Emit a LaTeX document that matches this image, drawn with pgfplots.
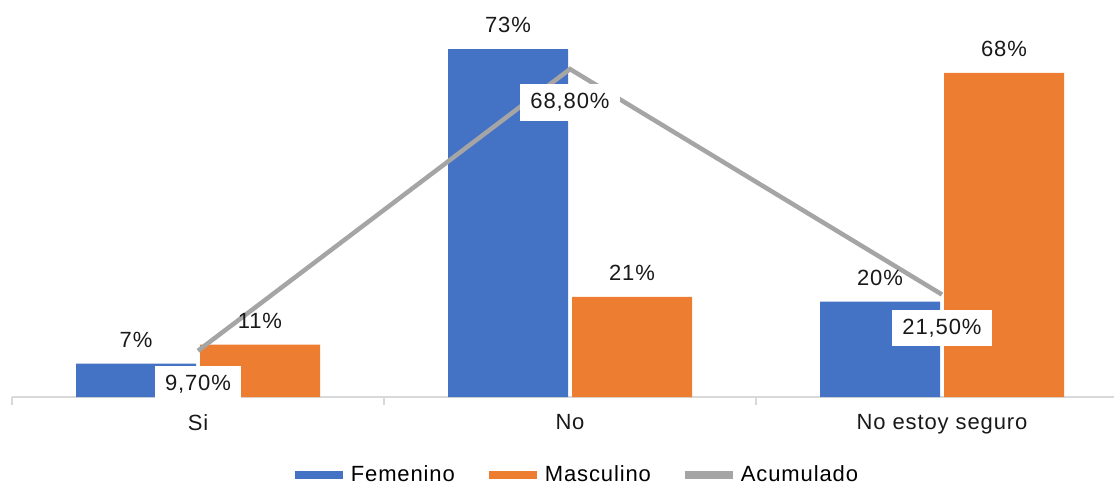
\documentclass[border=0pt]{standalone}
\usepackage{pgfplots}
\pgfplotsset{compat=1.18}
\usepackage{fontspec}
\setmainfont{Liberation Sans}[LetterSpace=4]

\definecolor{fem}{HTML}{4472C4}
\definecolor{masc}{HTML}{ED7D31}
\definecolor{acum}{HTML}{A5A5A5}
\definecolor{axisgray}{HTML}{D9D9D9}

\begin{document}
\begin{tikzpicture}[font=\fontsize{11}{13}\selectfont]
\begin{axis}[
  at={(6pt,46pt)}, anchor=south west,
  scale only axis,
  width=551pt, height=190.64pt,
  xmin=-0.5, xmax=2.4624,
  ymin=0, ymax=80,
  axis y line=none,
  axis x line*=bottom,
  x axis line style={draw=axisgray, line width=0.75pt, -},
  xtick={-0.5,0.5,1.5},
  xticklabels={},
  tick align=outside,
  major tick length=4pt,
  xtick style={draw=axisgray, line width=0.75pt},
  extra x ticks={0,1,2},
  extra x tick labels={Si,No,No estoy seguro},
  extra x tick style={major tick length=0pt, xticklabel style={yshift=-5pt, text=black!90}},
  clip=false,
  legend style={draw=none, at={(0.5122,-0.2046)}, anchor=center,
    legend columns=3, font=\fontsize{11}{13}\selectfont,
    /tikz/every even column/.append style={column sep=13pt},
    inner sep=0pt},
  legend cell align=left,
]
\addplot[ybar, bar width=60pt, bar shift=-31pt, fill=fem, draw=none,
  nodes near coords, point meta=explicit symbolic,
  every node near coord/.append style={anchor=south, inner sep=0pt, xshift=-31pt, yshift=8pt, text=black!90},
  legend image code/.code={\draw[fem, line width=4pt] (0pt,0pt) -- (24pt,0pt);}]
  coordinates {(0,7) [7\%] (1,73) [73\%] (2,20) [20\%]};
\addlegendentry{Femenino}
\addplot[ybar, bar width=60pt, bar shift=31pt, fill=masc, draw=none,
  nodes near coords, point meta=explicit symbolic,
  every node near coord/.append style={anchor=south, inner sep=0pt, xshift=31pt, yshift=8pt, text=black!90},
  legend image code/.code={\draw[masc, line width=4pt] (0pt,0pt) -- (24pt,0pt);}]
  coordinates {(0,11) [11\%] (1,21) [21\%] (2,68) [68\%]};
\addlegendentry{Masculino}
\addplot[sharp plot, acum, line width=2.25pt, mark=none,
  nodes near coords, point meta=explicit symbolic,
  every node near coord/.append style={anchor=north, fill=white, text=black!90,
    inner xsep=5pt, inner ysep=4.5pt, yshift=-6.5pt},
  legend image code/.code={\draw[acum, line width=4pt] (0pt,0pt) -- (24pt,0pt);}]
  coordinates {(0,9.7) [9,70\%] (1,68.8) [68,80\%] (2,21.5) [21,50\%]};
\addlegendentry{Acumulado}
\end{axis}
\pgfresetboundingbox
\path (0,0) rectangle (557pt,244.5pt);
\end{tikzpicture}
\end{document}
